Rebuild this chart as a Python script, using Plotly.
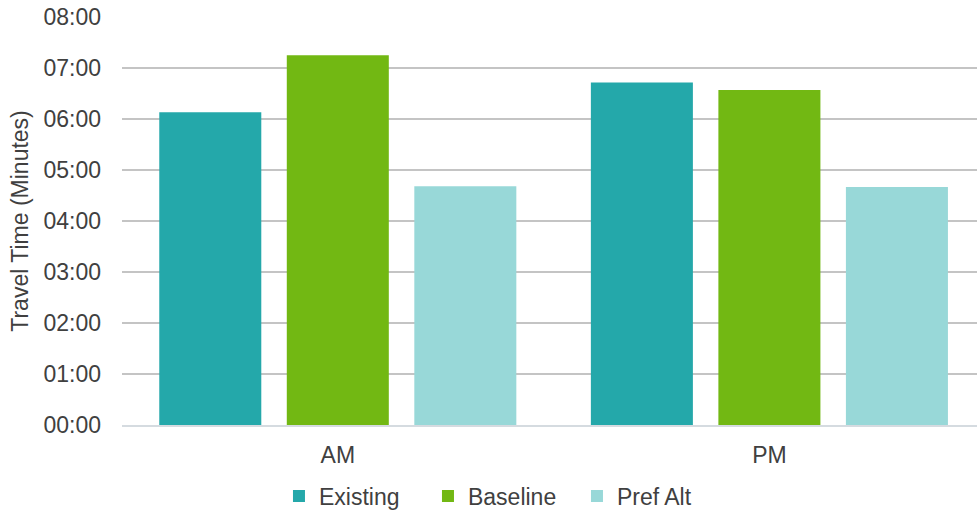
import plotly.graph_objects as go

# Peak periods on the x axis
periods = ["AM", "PM"]

# Travel times per scenario, as MM:SS
existing = ["06:08", "06:43"]
baseline = ["07:15", "06:34"]
pref_alt = ["04:41", "04:40"]

# Y axis ticks, in minutes
tick_minutes = [0, 1, 2, 3, 4, 5, 6, 7, 8]
tick_labels = ["00:00", "01:00", "02:00", "03:00", "04:00",
               "05:00", "06:00", "07:00", "08:00"]

series_names = ["Existing", "Baseline", "Pref Alt"]
series_colors = ["#24A8AA", "#72B813", "#98D8D8"]


def to_minutes(mmss):
    m, s = mmss.split(":")
    return int(m) + int(s) / 60.0


FONT = "Liberation Sans, Arial, sans-serif"
TEXT = "#404040"
SIZE = 23

fig = go.Figure()
for name, vals, color in zip(series_names, [existing, baseline, pref_alt], series_colors):
    fig.add_trace(go.Bar(
        name=name,
        x=periods,
        y=[to_minutes(v) for v in vals],
        customdata=vals,
        hovertemplate="%{x} " + name + ": %{customdata}<extra></extra>",
        marker=dict(color=color, line=dict(width=0)),
    ))

fig.update_layout(
    width=977,
    height=512,
    margin=dict(l=122, r=0, t=17, b=87),
    paper_bgcolor="white",
    plot_bgcolor="white",
    barmode="group",
    bargap=0.1136,
    bargroupgap=0.2,
    font=dict(family=FONT, size=SIZE, color=TEXT),
    showlegend=True,
    legend=dict(
        orientation="h",
        x=0.445,
        xanchor="center",
        yref="container",
        y=0.031,
        yanchor="middle",
        font=dict(family=FONT, size=SIZE, color=TEXT),
        itemwidth=30,
        entrywidth=104,
        entrywidthmode="pixels",
        traceorder="normal",
        bgcolor="rgba(0,0,0,0)",
    ),
    xaxis=dict(
        type="category",
        range=[-0.5, 1.481],
        showgrid=False,
        showline=True,
        linecolor="#d5dbe0",
        linewidth=2,
        ticks="",
        ticklabelstandoff=8,
        tickfont=dict(family=FONT, size=SIZE, color=TEXT),
        automargin=False,
        fixedrange=True,
    ),
    yaxis=dict(
        range=[0, 8],
        tickvals=tick_minutes,
        ticktext=tick_labels,
        showgrid=True,
        gridcolor="#c4c4c4",
        gridwidth=1.5,
        zeroline=False,
        showline=False,
        ticks="",
        ticklabelstandoff=20,
        tickfont=dict(family=FONT, size=SIZE, color=TEXT),
        title=dict(text="Travel Time (Minutes)", standoff=8,
                   font=dict(family=FONT, size=SIZE, color=TEXT)),
        automargin=False,
        fixedrange=True,
    ),
)

fig.write_html("out.html")
